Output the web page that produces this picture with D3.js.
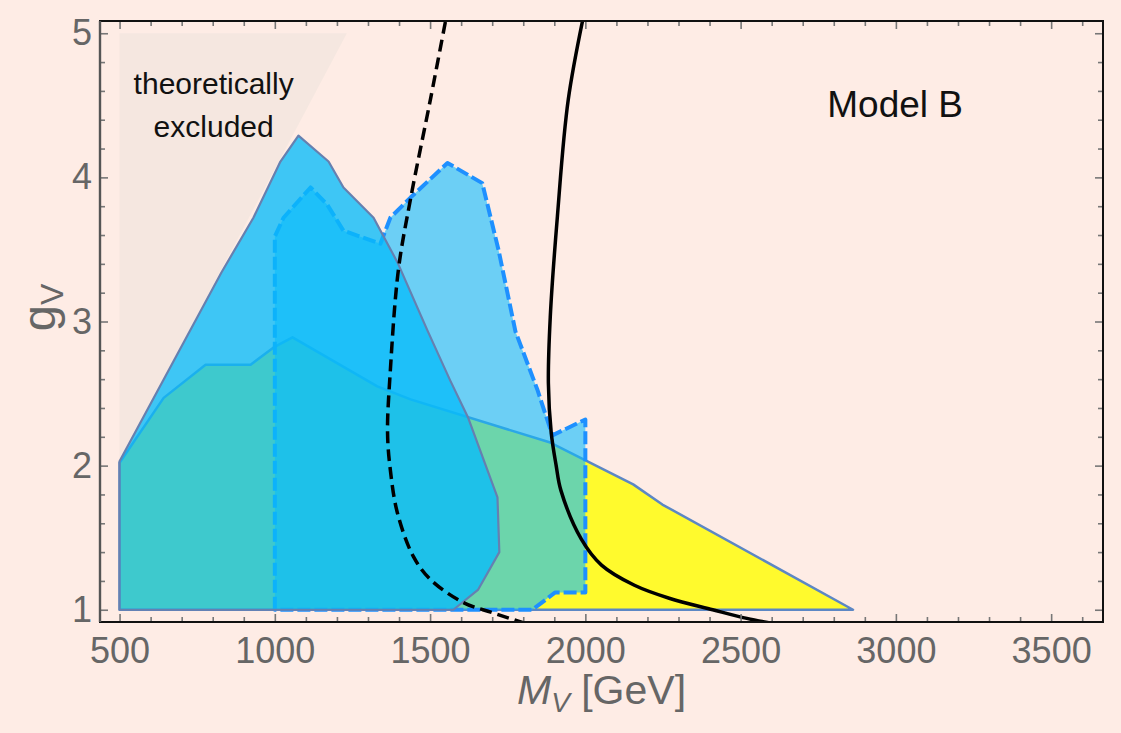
<!DOCTYPE html>
<html>
<head>
<meta charset="utf-8">
<script src="https://cdn.jsdelivr.net/npm/d3@7"></script>
<style>
  body { margin: 0; background: #feece5; }
  svg { display: block; font-family: 'Liberation Sans', Arial, sans-serif; }
</style>
</head>
<body>
<svg></svg>
<script>
// all points are [M_V in GeV, g_V]
const excludedRegion = [[500, 2.03], [500, 5], [1232, 5]]

const yellowRegion = [
  [500, 1], [500, 2.02], [642, 2.47], [777, 2.70], [922, 2.70], [996, 2.82], [1057, 2.89],
  [1330, 2.55], [1437, 2.46], [1887, 2.16], [2154, 1.87], [2248, 1.73], [2862, 1.0]
]

const solidRegion = [
  [500, 1], [500, 2.03], [828, 3.34], [931, 3.72], [1018, 4.11], [1076, 4.29], [1173, 4.11],
  [1221, 3.93], [1318, 3.72], [1395, 3.41], [1491, 2.94], [1565, 2.59], [1623, 2.33],
  [1717, 1.78], [1723, 1.40], [1655, 1.14], [1575, 1.0]
]

const dashedRegion = [
  [1000, 1], [1000, 3.59], [1028, 3.72], [1115, 3.93], [1169, 3.81], [1221, 3.63], [1340, 3.54],
  [1372, 3.72], [1437, 3.86], [1556, 4.10], [1668, 3.96], [1720, 3.50], [1775, 2.93],
  [1845, 2.53], [1894, 2.21], [2000, 2.32], [2000, 1.12], [1903, 1.12], [1829, 1.0]
]

const dashedContour = [
  [1560, 5.2], [1501, 4.54], [1437, 3.85], [1398, 3.36], [1372, 2.66], [1363, 2.23],
  [1372, 1.97], [1395, 1.67], [1446, 1.37], [1501, 1.21], [1607, 1.05], [1700, 0.98], [1830, 0.89]
]

const solidContour = [
  [2002, 5.2], [1945, 4.54], [1910, 3.73], [1887, 3.03], [1881, 2.57], [1890, 2.23],
  [1906, 2.0], [1921, 1.83], [1987, 1.49], [2052, 1.31], [2158, 1.17], [2270, 1.08],
  [2410, 1.0], [2520, 0.94], [2640, 0.89]
]

const xTicks = [500, 1000, 1500, 2000, 2500, 3000, 3500]
const yTicks = [1, 2, 3, 4, 5]

const outerWidth = 1121
const outerHeight = 733
const margin = { top: 21, right: 18, bottom: 111, left: 100 }
const width = outerWidth - margin.left - margin.right
const height = outerHeight - margin.top - margin.bottom

const x = d3.scaleLinear().domain([437, 3667]).range([0, width])
const y = d3.scaleLinear().domain([0.915, 5.085]).range([height, 0])

const svg = d3.select('svg')
    .attr('width', outerWidth)
    .attr('height', outerHeight)

svg.append('rect')
    .attr('width', outerWidth)
    .attr('height', outerHeight)
    .attr('fill', '#feece5')

const g = svg.append('g')
    .attr('transform', `translate(${margin.left},${margin.top})`)

g.append('clipPath').attr('id', 'plot')
  .append('rect').attr('width', width).attr('height', height)

const line = d3.line().x(d => x(d[0])).y(d => y(d[1]))
const smooth = d3.line().x(d => x(d[0])).y(d => y(d[1])).curve(d3.curveCatmullRom)

const area = g.append('g').attr('clip-path', 'url(#plot)')

area.append('path')
    .attr('d', line(excludedRegion) + 'Z')
    .attr('fill', '#f5e7e0')

area.append('path')
    .attr('d', line(yellowRegion) + 'Z')
    .attr('fill', '#fffa2d')
    .attr('stroke', '#5c87c4')
    .attr('stroke-width', 2.5)
    .attr('stroke-linejoin', 'round')

area.append('path')
    .attr('d', line(dashedRegion) + 'Z')
    .attr('fill', 'rgb(10,189,255)')
    .attr('fill-opacity', 0.6)
    .attr('stroke', '#1e90ff')
    .attr('stroke-width', 4)
    .attr('stroke-dasharray', '13,4')
    .attr('stroke-linejoin', 'round')

area.append('path')
    .attr('d', line(solidRegion) + 'Z')
    .attr('fill', 'rgb(8,187,250)')
    .attr('fill-opacity', 0.78)
    .attr('stroke', '#6680b0')
    .attr('stroke-width', 2.2)
    .attr('stroke-linejoin', 'round')

area.append('path')
    .attr('d', smooth(dashedContour))
    .attr('fill', 'none')
    .attr('stroke', '#000')
    .attr('stroke-width', 3.5)
    .attr('stroke-dasharray', '12,6')

area.append('path')
    .attr('d', smooth(solidContour))
    .attr('fill', 'none')
    .attr('stroke', '#000')
    .attr('stroke-width', 3.5)

// ticks (inward), minor every 100 GeV / 0.2
const xMinor = d3.range(500, 3667, 100).filter(v => !xTicks.includes(v))
const yMinor = d3.range(1, 5.01, 0.2).map(v => +v.toFixed(1)).filter(v => !yTicks.includes(v))

function styleAxis(sel) {
  sel.select('.domain').remove()
  sel.selectAll('.tick line').attr('stroke', '#777').attr('stroke-width', 1.6)
  sel.selectAll('text').attr('fill', '#666').attr('font-size', 36)
}

g.append('g').attr('transform', `translate(0,${height})`)
    .call(d3.axisBottom(x).tickValues(xTicks).tickSize(-8).tickPadding(15).tickFormat(d3.format('d')))
    .call(styleAxis)
g.append('g').attr('transform', `translate(0,${height})`)
    .call(d3.axisBottom(x).tickValues(xMinor).tickSize(-5).tickFormat(''))
    .call(styleAxis)
g.append('g')
    .call(d3.axisTop(x).tickValues(xTicks).tickSize(-8).tickFormat(''))
    .call(styleAxis)
g.append('g')
    .call(d3.axisTop(x).tickValues(xMinor).tickSize(-5).tickFormat(''))
    .call(styleAxis)

g.append('g')
    .call(d3.axisLeft(y).tickValues(yTicks).tickSize(-8).tickPadding(8).tickFormat(d3.format('d')))
    .call(styleAxis)
g.append('g')
    .call(d3.axisLeft(y).tickValues(yMinor).tickSize(-5).tickFormat(''))
    .call(styleAxis)
g.append('g').attr('transform', `translate(${width},0)`)
    .call(d3.axisRight(y).tickValues(yTicks).tickSize(-8).tickFormat(''))
    .call(styleAxis)
g.append('g').attr('transform', `translate(${width},0)`)
    .call(d3.axisRight(y).tickValues(yMinor).tickSize(-5).tickFormat(''))
    .call(styleAxis)

// frame
g.append('rect')
    .attr('width', width)
    .attr('height', height)
    .attr('fill', 'none')
    .attr('stroke', '#111')
    .attr('stroke-width', 2)
g.append('line')
    .attr('y2', height)
    .attr('stroke', '#555')
    .attr('stroke-width', 2.4)

// labels
g.append('text')
    .attr('x', x(803)).attr('y', y(4.58))
    .attr('text-anchor', 'middle')
    .attr('font-size', 30)
    .attr('fill', '#111')
    .text('theoretically')
g.append('text')
    .attr('x', x(803)).attr('y', y(4.28))
    .attr('text-anchor', 'middle')
    .attr('font-size', 30)
    .attr('fill', '#111')
    .text('excluded')

g.append('text')
    .attr('x', x(2779)).attr('y', y(4.42))
    .attr('font-size', 37)
    .attr('fill', '#111')
    .text('Model B')

const xTitle = svg.append('text')
    .attr('x', margin.left + width / 2)
    .attr('y', 704)
    .attr('text-anchor', 'middle')
    .attr('fill', '#666')
    .attr('font-size', 41)
xTitle.append('tspan').attr('font-style', 'italic').text('M')
xTitle.append('tspan').attr('font-style', 'italic').attr('font-size', 28).attr('dy', 8).text('V')
xTitle.append('tspan').attr('dy', -8).text(' [GeV]')

const yTitle = svg.append('text')
    .attr('transform', `translate(55,${margin.top + height / 2 - 14}) rotate(-90)`)
    .attr('text-anchor', 'middle')
    .attr('fill', '#666')
    .attr('font-size', 47)
yTitle.append('tspan').text('g')
yTitle.append('tspan').attr('font-size', 32).attr('dy', 8).text('V')
</script>
</body>
</html>
